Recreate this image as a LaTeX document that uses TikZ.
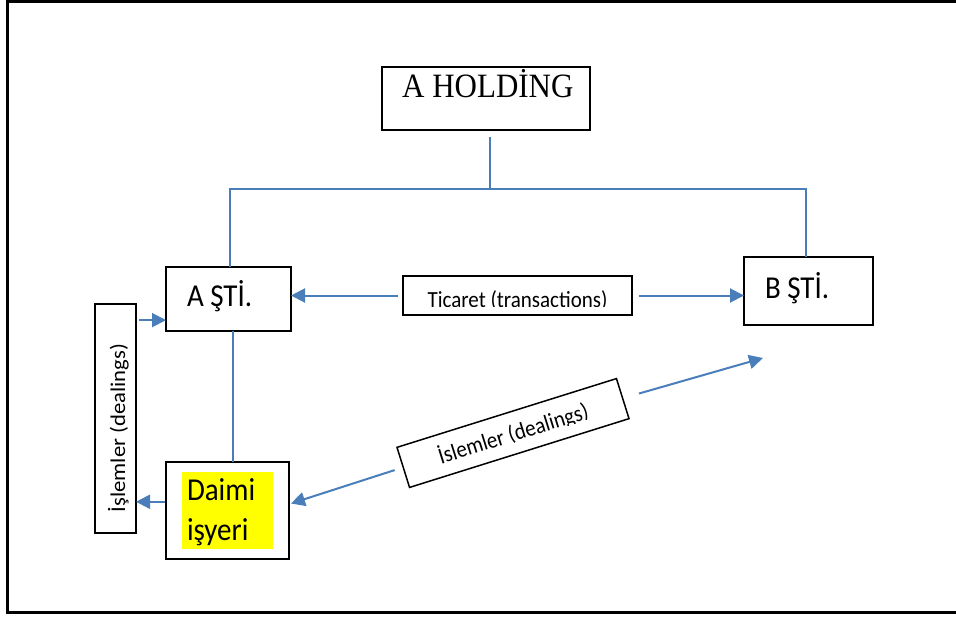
\documentclass[tikz,border=0pt]{standalone}
\usepackage{fontspec}
\usepackage{graphicx}
\setmainfont{Carlito}
\newfontfamily\holdfont{Liberation Serif}
\usetikzlibrary{arrows.meta,calc}
\definecolor{conn}{RGB}{74,126,187}
\definecolor{hl}{RGB}{255,255,0}
\newcommand{\vs}[1]{\scalebox{1}[1.1]{#1}}
\tikzset{
  box/.style={draw=black, line width=1.5pt, inner sep=0pt, outer sep=0pt, fill=white},
  link/.style={draw=conn, line width=2pt},
  arr/.style={link, -{Triangle[length=14pt,width=14pt]}},
  big/.style={font=\fontsize{29}{34}\selectfont, inner sep=0pt, outer sep=0pt},
  small/.style={font=\fontsize{21}{25}\selectfont, inner sep=0pt, outer sep=0pt},
}
\begin{document}
\begin{tikzpicture}[x=1pt,y=-1pt]
\useasboundingbox (0,0) rectangle (956,616);
\clip (0,0) rectangle (956,616);
\fill[white] (0,0) rectangle (956,616);
\draw[line width=3pt] (7.5,1.5) rectangle (990,612);

% boxes
\node[box, line width=2.8pt, minimum width=208, minimum height=63] (hold) at (486,98.5) {};
\node[font=\holdfont\fontsize{31}{36}\selectfont, anchor=base west, inner sep=0pt] (holdT) at ($(hold.north west)+(20,30)$) {\vs{A HOLDİNG}};

\node[box, minimum width=125, minimum height=64] (aSti) at (228.5,299) {};
\node[big, anchor=base west] (aStiT) at ($(aSti.north west)+(21,39)$) {\vs{A ŞTİ.}};

\node[box, minimum width=129, minimum height=68] (bSti) at (808.5,291) {};
\node[big, anchor=base west] (bStiT) at ($(bSti.north west)+(21,41)$) {\vs{B ŞTİ.}};

\node[box, minimum width=123, minimum height=97] (daimi) at (227.5,510.5) {};
\fill[hl] ($(daimi.north west)+(16,10)$) rectangle ($(daimi.north west)+(107,87)$);
\node[big, anchor=base west] (daimiT1) at ($(daimi.north west)+(21,38)$) {\vs{Daimi}};
\node[big, anchor=base west] (daimiT2) at ($(daimi.north west)+(21,78)$) {\vs{işyeri}};

\node[box, minimum width=229, minimum height=39] (tic) at (517.5,295.5) {};
\begin{scope}
  \clip (tic.north west) rectangle ($(tic.south east)+(0,-9)$);
  \node[small, anchor=base] (ticT) at ($(tic.south)+(0,-7.5)$) {\vs{Ticaret (transactions)}};
\end{scope}

\node[box, minimum width=41, minimum height=229] (dl1) at (115.5,418.5) {};
\node[small, rotate=90, anchor=base] (dl1T) at ($(dl1.center)+(9.5,9.5)$) {\scalebox{1.08}[1]{İşlemler (dealings)}};

\node[box, rotate=17.4, minimum width=230, minimum height=42] (dl2) at (513,433) {};
\begin{scope}
  \clip (dl2.north west) -- (dl2.north east) -- ($(dl2.south east)!12pt!(dl2.north east)$) -- ($(dl2.south west)!12pt!(dl2.north west)$) -- cycle;
  \node[small, rotate=17.4, anchor=base] (dl2T) at ($(dl2.south)!12.5pt!(dl2.north)$) {\vs{İslemler (dealings)}};
\end{scope}

% connectors
\coordinate (bus) at ($(hold.south)+(4,59)$);
\draw[link] ($(hold.south)+(4,7)$) -- (bus);
\draw[link] ([xshift=1.5pt]aSti.north) |- (bus) -| ([xshift=-2.5pt]bSti.north);

\draw[arr] ([xshift=-5pt]tic.west) -- (tic.west -| aSti.east);
\draw[arr] ([xshift=7pt]tic.east) -- (tic.east -| bSti.west);

\draw[link] ([xshift=4pt]aSti.south) -- ([xshift=4pt]aSti.south |- daimi.north);

\coordinate (aIn) at ($(aSti.south west)!0.17!(aSti.north west)$);
\draw[arr] ([xshift=3pt]dl1.east |- aIn) -- (aIn);

\coordinate (dOut) at ($(daimi.north west)!0.41!(daimi.south west)$);
\draw[arr] ([xshift=-1pt]dOut) -- (dOut -| dl1.east);

\draw[arr] ($(dl2.west)!-9pt!(dl2.center)$) -- ($(daimi.east)+(2,-7)$);
\coordinate (bEnd) at ($(bSti.south west)+(19,33)$);
\draw[arr] ($(dl2.east)!-17pt!(dl2.center)$) -- (bEnd);
\end{tikzpicture}
\end{document}
